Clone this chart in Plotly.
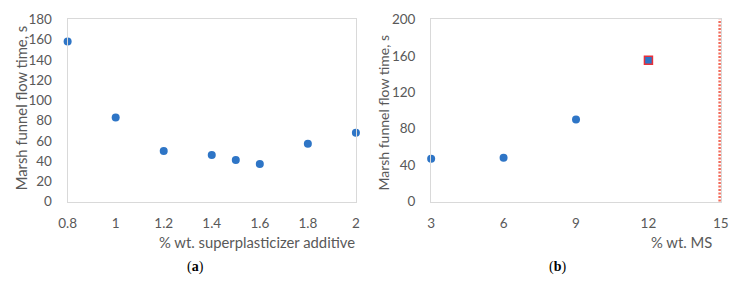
import plotly.graph_objects as go

# Panel (a)
sp_x = [0.8, 1.0, 1.2, 1.4, 1.5, 1.6, 1.8, 2.0]
sp_y = [158, 83, 50, 46, 41, 37, 57, 68]
# Panel (b)
ms_x = [3, 6, 9]
ms_y = [47, 48, 90]
ms_sq_x = [12]
ms_sq_y = [155]

W, H = 745, 286
def fx(px): return px / W
def fy(py): return 1 - py / H

BLUE = "#2e75c6"
GRAY = "#595959"
FONT = "Lato"

fig = go.Figure()
fig.add_trace(go.Scatter(x=sp_x, y=sp_y, mode="markers", xaxis="x", yaxis="y",
                         marker=dict(color=BLUE, size=8), cliponaxis=False, showlegend=False))
fig.add_trace(go.Scatter(x=ms_x, y=ms_y, mode="markers", xaxis="x2", yaxis="y2",
                         marker=dict(color=BLUE, size=8), cliponaxis=False, showlegend=False))
fig.add_trace(go.Scatter(x=ms_sq_x, y=ms_sq_y, mode="markers", xaxis="x2", yaxis="y2",
                         marker=dict(color=BLUE, size=8, symbol="square",
                                     line=dict(color="#e8303a", width=1.5)),
                         cliponaxis=False, showlegend=False))

ax_common = dict(showgrid=False, zeroline=False, showline=True, mirror=True,
                 linecolor="#d9d9d9", linewidth=1, ticks="outside",
                 tickcolor="rgba(0,0,0,0)", tickfont=dict(family=FONT, size=13.5, color=GRAY))
xt = dict(ticklen=9, **ax_common)
yt = dict(ticklen=12, **ax_common)

ydom = [fy(205), fy(12)]
fig.update_layout(
    width=W, height=H, margin=dict(l=0, r=0, t=0, b=0),
    paper_bgcolor="white", plot_bgcolor="white",
    xaxis=dict(domain=[fx(60), fx(355)], range=[0.8, 2.0], tick0=0.8, dtick=0.2,
               anchor="y", **xt),
    yaxis=dict(domain=ydom, range=[0, 180], dtick=20, anchor="x", **yt),
    xaxis2=dict(domain=[fx(432), fx(728.5)], range=[3, 15], tick0=3, dtick=3,
                anchor="y2", **xt),
    yaxis2=dict(domain=ydom, range=[0, 200], dtick=40, anchor="x2", **yt),
)

fig.add_shape(type="line", xref="x2", yref="paper", x0=15, x1=15,
              y0=fy(205), y1=fy(12), line=dict(color="#f26b5b", width=5, dash="2px,1.5px"))

anns = [
    dict(text="Marsh funnel flow time, s", x=fx(12.5), y=fy(106), textangle=-90, size=14.8),
    dict(text="Marsh funnel flow time, s", x=fx(383), y=fy(110.5), textangle=-90, size=14),
    dict(text="% wt. superplasticizer additive", x=fx(254), y=fy(248), size=14.8),
    dict(text="% wt. MS", x=fx(688), y=fy(248), size=14.8),
]
for a in anns:
    sz = a.pop("size")
    fig.add_annotation(xref="paper", yref="paper", showarrow=False,
                       font=dict(family=FONT, size=sz, color=GRAY),
                       xanchor="center", yanchor="middle", **a)
for t, x in [("(<b>a</b>)", 191), ("(<b>b</b>)", 561)]:
    fig.add_annotation(xref="paper", yref="paper", showarrow=False, text=t,
                       x=fx(x), y=fy(274), xanchor="center", yanchor="middle",
                       font=dict(family="Liberation Serif", size=14, color="black"))

fig.write_html("out.html", config={"displayModeBar": False},
               post_script="document.body.style.margin='0';document.body.style.overflow='hidden';")
